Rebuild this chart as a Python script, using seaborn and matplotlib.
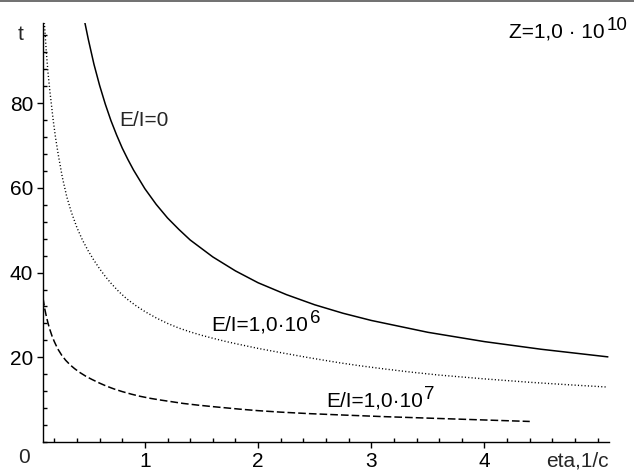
import numpy as np
import pandas as pd
import matplotlib
matplotlib.use("Agg")
import matplotlib.pyplot as plt
from matplotlib.ticker import MultipleLocator, FixedLocator
from matplotlib.patches import Rectangle
import seaborn as sns

# t(eta) for Z = 1.0e10 and three values of E/I
eta_0 = [0.47, 0.5, 0.55, 0.6, 0.65, 0.7, 0.75, 0.8, 0.85, 0.9, 1.0, 1.1,
         1.2, 1.3, 1.4, 1.6, 1.8, 2.0, 2.25, 2.5, 2.75, 3.0, 3.5, 4.0, 4.5,
         5.09]
t_0 = [99.0, 95.1, 89.2, 84.2, 79.8, 75.9, 72.5, 69.4, 66.7, 64.2, 59.8, 56.1,
       52.9, 50.2, 47.7, 43.7, 40.4, 37.6, 34.8, 32.4, 30.4, 28.7, 25.9, 23.7,
       21.9, 20.1]

eta_6 = [0.112, 0.13, 0.145, 0.16, 0.19, 0.21, 0.235, 0.27, 0.31, 0.35, 0.4,
         0.45, 0.5, 0.55, 0.6, 0.65, 0.7, 0.77, 0.84, 0.92, 1.0, 1.1, 1.2,
         1.3, 1.4, 1.5, 1.6, 1.72, 1.84, 2.0, 2.2, 2.45, 2.72, 2.9, 3.1,
         3.35, 3.6, 4.0, 4.4, 4.75, 5.07]
t_6 = [99.0, 91.8, 87.0, 83.0, 76.0, 72.0, 67.8, 62.6, 57.9, 54.3, 50.6,
       47.6, 45.1, 42.9, 40.9, 39.1, 37.5, 35.5, 33.8, 32.2, 30.8, 29.3, 28.0,
       26.9, 26.0, 25.2, 24.5, 23.7, 23.0, 22.1, 21.1, 19.9, 18.7, 18.0, 17.3,
       16.5, 15.8, 14.9, 14.1, 13.5, 13.0]

eta_7 = [0.1, 0.115, 0.13, 0.145, 0.16, 0.18, 0.2, 0.23, 0.265, 0.3, 0.34,
         0.38, 0.426, 0.48, 0.53, 0.6, 0.66, 0.73, 0.8, 0.88, 0.956, 1.05,
         1.14, 1.24, 1.34, 1.47, 1.6, 1.72, 1.84, 2.0, 2.2, 2.45, 2.72, 3.1,
         3.6, 4.0, 4.4]
t_7 = [34.0, 31.5, 29.6, 28.0, 26.6, 25.0, 23.7, 22.0, 20.5, 19.3, 18.2,
       17.3, 16.4, 15.5, 14.8, 13.9, 13.2, 12.5, 11.9, 11.3, 10.8, 10.3,
       9.9, 9.5, 9.1, 8.7, 8.35, 8.05, 7.75, 7.4, 7.05, 6.7, 6.4, 6.0,
       5.55, 5.2, 4.85]

x_major = [1, 2, 3, 4]
y_major = [20, 40, 60, 80]

sns.set_theme(style="white")
plt.rcParams["font.family"] = ["Liberation Sans", "DejaVu Sans"]
FS = 15

fig = plt.figure(figsize=(6.34, 4.72), dpi=100)
fig.patch.set_facecolor("white")
ax = fig.add_axes([43 / 634, 30 / 472, 566 / 634, 419.3 / 472])
ax.set_facecolor("white")

df0 = pd.DataFrame({"eta": eta_0, "t": t_0})
df6 = pd.DataFrame({"eta": eta_6, "t": t_6})
df7 = pd.DataFrame({"eta": eta_7, "t": t_7})

sns.lineplot(data=df0, x="eta", y="t", ax=ax, color="black", lw=1.1,
             linestyle="-")
sns.lineplot(data=df6, x="eta", y="t", ax=ax, color="black", lw=1.0,
             linestyle=(0, (0.8, 1.6)))
sns.lineplot(data=df7, x="eta", y="t", ax=ax, color="black", lw=1.1,
             linestyle=(0, (5, 2)))

ax.set_xlim(0.1, 5.1)
ax.set_ylim(0, 99)
ax.set_xlabel("")
ax.set_ylabel("")

for side in ("top", "right"):
    ax.spines[side].set_visible(False)
for side in ("left", "bottom"):
    ax.spines[side].set_color("black")
    ax.spines[side].set_linewidth(1.0)

ax.xaxis.set_major_locator(FixedLocator(x_major))
ax.yaxis.set_major_locator(FixedLocator(y_major))
ax.xaxis.set_minor_locator(MultipleLocator(0.2))
ax.yaxis.set_minor_locator(MultipleLocator(4))
ax.tick_params(which="major", direction="out", length=4, width=1,
               color="black", labelsize=FS, labelcolor="black", pad=3)
ax.tick_params(which="minor", direction="in", length=3, width=1,
               color="black")
ax.tick_params(axis="x", which="both", bottom=True)
ax.tick_params(axis="y", which="both", left=True)

# origin label and axis names
ax.text(-0.12, -1.4, "0", fontsize=FS, ha="left", va="top")
ax.text(-0.125, 95.0, "t", fontsize=FS, ha="left", va="baseline")
ax.text(5.1, -5.9, "eta,1/c", fontsize=FS, ha="right", va="baseline")


def label_with_power(x, y, base, power, size=FS):
    t = ax.text(x, y, base, fontsize=size, ha="left", va="bottom",
                color="black")
    ax.annotate(power, xy=(1, 0), xycoords=t, xytext=(1, 5.5),
                textcoords="offset points", fontsize=size - 1.5,
                ha="left", va="bottom", color="black")
    return t


ax.text(0.77, 74.9 - 1.2, "E/I=0", fontsize=FS, ha="left", va="bottom")
label_with_power(1.59, 26.5 - 1.2, "E/I=1,0\u00b710", "6")
label_with_power(2.60, 8.7 - 1.2, "E/I=1,0\u00b710", "7")
label_with_power(4.22, 95.7 - 1.2, "Z=1,0 \u00b7 10", "10")

# thin grey strip along the top edge
fig.add_artist(Rectangle((0, 1 - 2 / 472), 1, 2 / 472,
                         transform=fig.transFigure, color="0.45", lw=0))

fig.savefig("out.png", dpi=100, facecolor="white")
